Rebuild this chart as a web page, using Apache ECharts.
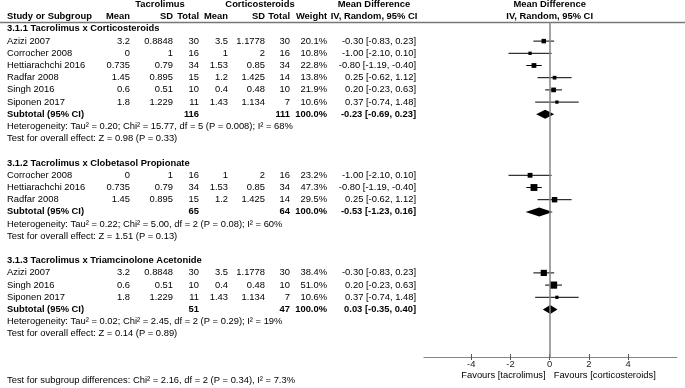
<!DOCTYPE html>
<html><head><meta charset="utf-8">
<script src="https://cdn.jsdelivr.net/npm/echarts@6/dist/echarts.min.js"></script>
<style>html,body{margin:0;padding:0;background:#fff}#c{width:685px;height:388px}</style>
</head><body><div id="c"></div>
<script>
// ---------------- data ----------------
const groupTitles = ['3.1.1 Tacrolimus x Corticosteroids', '3.1.2 Tacrolimus x Clobetasol Propionate', '3.1.3 Tacrolimus x Triamcinolone Acetonide'];
const studyGroup = [0,0,0,0,0,0, 1,1,1, 2,2,2];
const studyNames = ['Azizi 2007','Corrocher 2008','Hettiarachchi 2016','Radfar 2008','Singh 2016','Siponen 2017',
                    'Corrocher 2008','Hettiarachchi 2016','Radfar 2008',
                    'Azizi 2007','Singh 2016','Siponen 2017'];
const tacMean = [3.2,0,0.735,1.45,0.6,1.8, 0,0.735,1.45, 3.2,0.6,1.8];
const tacSD   = [0.8848,1,0.79,0.895,0.51,1.229, 1,0.79,0.895, 0.8848,0.51,1.229];
const tacN    = [30,16,34,15,10,11, 16,34,15, 30,10,11];
const corMean = [3.5,1,1.53,1.2,0.4,1.43, 1,1.53,1.2, 3.5,0.4,1.43];
const corSD   = [1.1778,2,0.85,1.425,0.48,1.134, 2,0.85,1.425, 1.1778,0.48,1.134];
const corN    = [30,16,34,14,10,7, 16,34,14, 30,10,7];
const weights = [20.1,10.8,22.8,13.8,21.9,10.6, 23.2,47.3,29.5, 38.4,51.0,10.6];
const md      = [-0.30,-1.00,-0.80,0.25,0.20,0.37, -1.00,-0.80,0.25, -0.30,0.20,0.37];
const mdLo    = [-0.83,-2.10,-1.19,-0.62,-0.23,-0.74, -2.10,-1.19,-0.62, -0.83,-0.23,-0.74];
const mdHi    = [0.23,0.10,-0.40,1.12,0.63,1.48, 0.10,-0.40,1.12, 0.23,0.63,1.48];
const subTacN = [116,65,51];
const subCorN = [111,64,47];
const subWeight = [100.0,100.0,100.0];
const subMd   = [-0.23,-0.53,0.03];
const subLo   = [-0.69,-1.23,-0.35];
const subHi   = [0.23,0.16,0.40];
const heterogeneity = [
  'Heterogeneity: Tau\u00B2 = 0.20; Chi\u00B2 = 15.77, df = 5 (P = 0.008); I\u00B2 = 68%',
  'Heterogeneity: Tau\u00B2 = 0.22; Chi\u00B2 = 5.00, df = 2 (P = 0.08); I\u00B2 = 60%',
  'Heterogeneity: Tau\u00B2 = 0.02; Chi\u00B2 = 2.45, df = 2 (P = 0.29); I\u00B2 = 19%'];
const overallEffect = [
  'Test for overall effect: Z = 0.98 (P = 0.33)',
  'Test for overall effect: Z = 1.51 (P = 0.13)',
  'Test for overall effect: Z = 0.14 (P = 0.89)'];
const subgroupTest = 'Test for subgroup differences: Chi\u00B2 = 2.16, df = 2 (P = 0.34), I\u00B2 = 7.3%';
const xTicks = [-4,-2,0,2,4];
const favours = ['Favours [tacrolimus]','Favours [corticosteroids]'];

// ---------------- layout ----------------
const W = 685, H = 388;
const ROW0 = 4.5, ROW_H = 12.2;
const FS = 9.4;
const FONT = '"Liberation Sans", Arial, sans-serif';
const PLOT_LEFT = 424, PLOT_RIGHT = 676.7, PLOT_TOP = 22, AXIS_Y = 357;
const XMIN = -6.41, XMAX = 6.48;
const ZERO_PX = PLOT_LEFT + (0 - XMIN) / (XMAX - XMIN) * (PLOT_RIGHT - PLOT_LEFT);
const toRow = px => (px - ROW0) / ROW_H;
const COL = {name: 7, tMean: 130, tSD: 173, tN: 199, cMean: 228, cSD: 265, cN: 290, w: 327, md: 416,
             mdHead: 374, tacHead: 160, corHead: 260};
const GRAY = '#858585';

const fmt = v => v.toFixed(2);
const ciText = (m, l, h) => `${fmt(m)} [${fmt(l)}, ${fmt(h)}]`;

const texts = [];
const T = (x, r, text, align, bold) => texts.push({x, r, text: String(text), align, bold: !!bold});

// headers
T(COL.tacHead, 0, 'Tacrolimus', 'center', 1);
T(COL.corHead, 0, 'Corticosteroids', 'center', 1);
T(COL.mdHead, 0, 'Mean Difference', 'center', 1);
T(ZERO_PX, 0, 'Mean Difference', 'center', 1);
T(COL.name, 1, 'Study or Subgroup', 'left', 1);
T(COL.tMean, 1, 'Mean', 'right', 1);
T(COL.tSD, 1, 'SD', 'right', 1);
T(COL.tN, 1, 'Total', 'right', 1);
T(COL.cMean, 1, 'Mean', 'right', 1);
T(COL.cSD, 1, 'SD', 'right', 1);
T(COL.cN, 1, 'Total', 'right', 1);
T(COL.w, 1, 'Weight', 'right', 1);
T(COL.mdHead, 1, 'IV, Random, 95% CI', 'center', 1);
T(ZERO_PX, 1, 'IV, Random, 95% CI', 'center', 1);

const studyData = [], diamondData = [];
let r = 2;
for (let g = 0; g < groupTitles.length; g++) {
  T(COL.name, r, groupTitles[g], 'left', 1); r++;
  for (let i = 0; i < studyNames.length; i++) {
    if (studyGroup[i] !== g) continue;
    T(COL.name, r, studyNames[i], 'left');
    T(COL.tMean, r, tacMean[i], 'right');
    T(COL.tSD, r, tacSD[i], 'right');
    T(COL.tN, r, tacN[i], 'right');
    T(COL.cMean, r, corMean[i], 'right');
    T(COL.cSD, r, corSD[i], 'right');
    T(COL.cN, r, corN[i], 'right');
    T(COL.w, r, weights[i].toFixed(1) + '%', 'right');
    T(COL.md, r, ciText(md[i], mdLo[i], mdHi[i]), 'right');
    studyData.push([md[i], r, mdLo[i], mdHi[i], weights[i]]);
    r++;
  }
  T(COL.name, r, 'Subtotal (95% CI)', 'left', 1);
  T(COL.tN, r, subTacN[g], 'right', 1);
  T(COL.cN, r, subCorN[g], 'right', 1);
  T(COL.w, r, subWeight[g].toFixed(1) + '%', 'right', 1);
  T(COL.md, r, ciText(subMd[g], subLo[g], subHi[g]), 'right', 1);
  diamondData.push([subMd[g], r, subLo[g], subHi[g]]);
  r++;
  T(COL.name, r, heterogeneity[g], 'left'); r++;
  T(COL.name, r, overallEffect[g], 'left'); r += 2;
}
T(COL.name, toRow(380), subgroupTest, 'left');
T(ZERO_PX - 4, toRow(375), favours[0], 'right');
T(ZERO_PX + 4, toRow(375), favours[1], 'left');

// ---------------- chart ----------------
const chart = echarts.init(document.getElementById('c'), null, {renderer: 'canvas'});
chart.setOption({
  animation: false,
  backgroundColor: '#fff',
  grid: [
    {left: 0, right: 0, top: 0, bottom: 0},
    {left: PLOT_LEFT, right: W - PLOT_RIGHT, top: PLOT_TOP, bottom: H - AXIS_Y}
  ],
  xAxis: [
    {gridIndex: 0, type: 'value', min: 0, max: W, show: false},
    {gridIndex: 1, type: 'value', min: XMIN, max: XMAX, position: 'bottom',
     axisLine: {show: true, onZero: false, lineStyle: {color: GRAY, width: 1.2}},
     axisTick: {show: true, inside: true, length: 3, customValues: xTicks, lineStyle: {color: '#555'}},
     axisLabel: {show: true, customValues: xTicks, margin: 3, fontSize: FS, fontFamily: FONT, color: '#222'},
     splitLine: {show: false}},
    {gridIndex: 1, type: 'value', min: XMIN, max: XMAX, position: 'bottom',
     axisLine: {show: false},
     axisTick: {show: true, inside: false, length: 3, customValues: xTicks, lineStyle: {color: '#555'}},
     axisLabel: {show: false}, splitLine: {show: false}}
  ],
  yAxis: [
    {gridIndex: 0, type: 'value', min: toRow(0), max: toRow(H), inverse: true, show: false},
    {gridIndex: 1, type: 'value', min: toRow(PLOT_TOP), max: toRow(AXIS_Y), inverse: true, show: false}
  ],
  series: [
    {
      type: 'custom', xAxisIndex: 0, yAxisIndex: 0, silent: true,
      data: texts.map((t, i) => [t.x, t.r, i]),
      renderItem: (params, api) => {
        const t = texts[api.value(2)];
        const p = api.coord([t.x, t.r]);
        return {type: 'text', x: p[0], y: p[1], style: {
          text: t.text, align: t.align, verticalAlign: 'middle',
          font: (t.bold ? 'bold ' : '') + FS + 'px ' + FONT, fill: '#000'}};
      },
      markLine: {silent: true, symbol: 'none', label: {show: false},
        lineStyle: {color: '#777', width: 1.3, type: 'solid'},
        data: [{yAxis: toRow(PLOT_TOP)}]}
    },
    {
      type: 'custom', xAxisIndex: 1, yAxisIndex: 1, silent: true,
      data: studyData,
      renderItem: (params, api) => {
        const c = api.coord([api.value(0), api.value(1)]);
        const a = api.coord([api.value(2), api.value(1)]);
        const b = api.coord([api.value(3), api.value(1)]);
        const s = Math.sqrt(api.value(4)) * 1.0;
        return {type: 'group', children: [
          {type: 'line', shape: {x1: a[0], y1: a[1], x2: b[0], y2: b[1]}, style: {stroke: '#000', lineWidth: 1}},
          {type: 'rect', shape: {x: c[0] - s / 2, y: c[1] - s / 2, width: s, height: s}, style: {fill: '#000'}}
        ]};
      },
      markLine: {silent: true, symbol: 'none', label: {show: false},
        lineStyle: {color: GRAY, width: 1.5, type: 'solid'},
        data: [{xAxis: 0}]},
      z: 3
    },
    {
      type: 'custom', xAxisIndex: 1, yAxisIndex: 1, silent: true,
      data: diamondData,
      renderItem: (params, api) => {
        const c = api.coord([api.value(0), api.value(1)]);
        const a = api.coord([api.value(2), api.value(1)]);
        const b = api.coord([api.value(3), api.value(1)]);
        const h = 4.5;
        return {type: 'polygon', shape: {points: [[a[0], c[1]], [c[0], c[1] - h], [b[0], c[1]], [c[0], c[1] + h]]},
          style: {fill: '#000'}};
      },
      z: 4
    }
  ]
});
</script>
</body></html>
